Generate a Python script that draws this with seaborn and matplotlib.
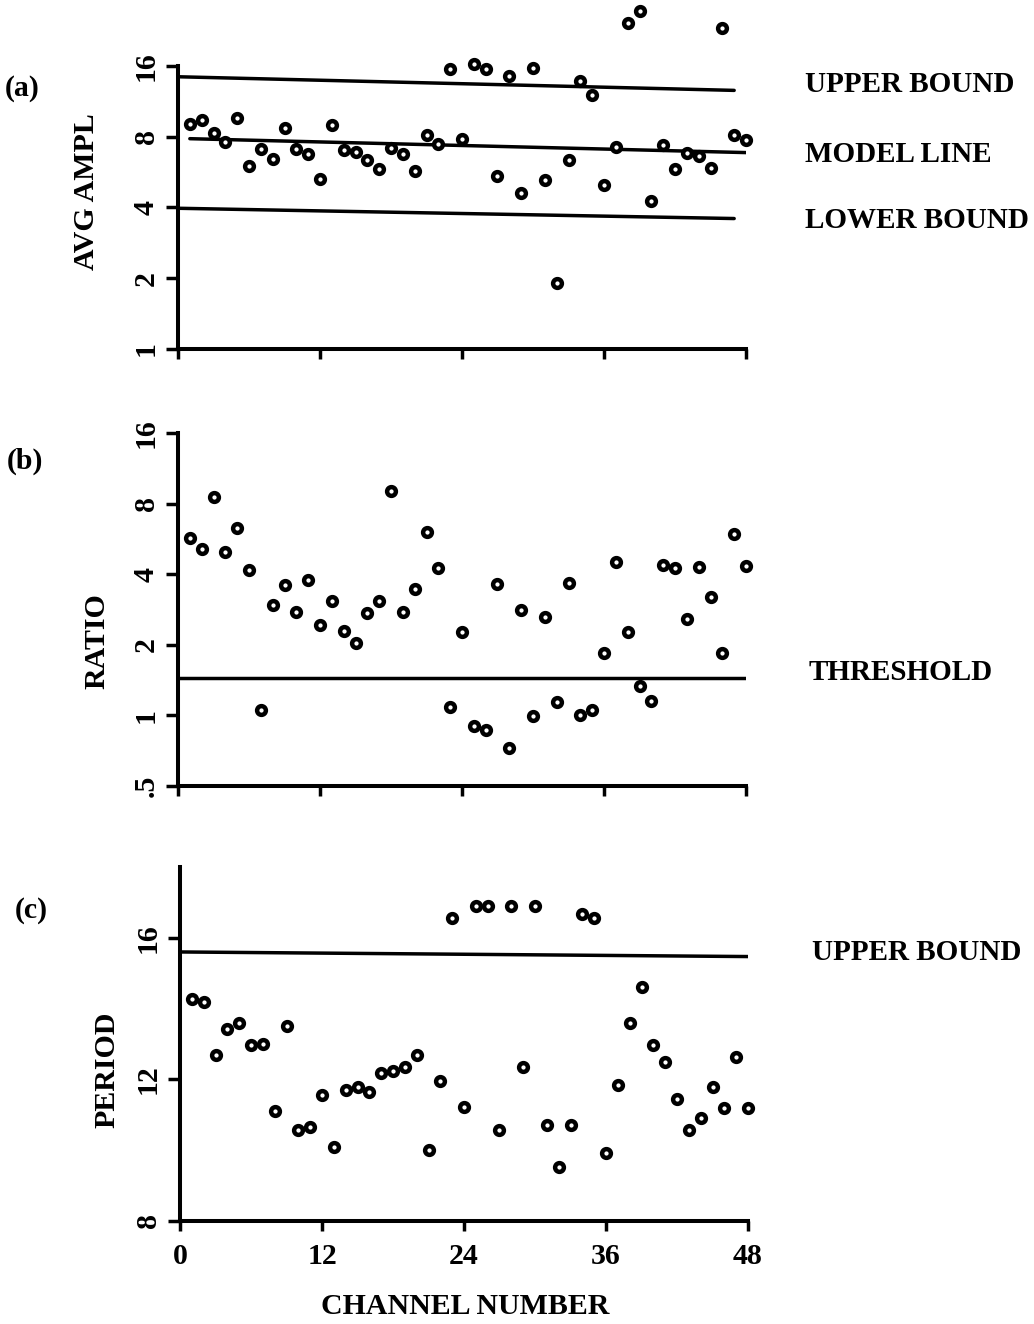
import matplotlib
matplotlib.use("Agg")
import matplotlib.pyplot as plt
from matplotlib.ticker import FixedLocator, NullLocator
import seaborn as sns

# channel numbers and per-channel values
channels = list(range(1, 49))
avg_ampl = [9.1, 9.4, 8.26, 7.63, 9.6, 6.0, 7.07, 6.46, 8.7, 7.07, 6.78, 5.27,
            9.0, 7.06, 6.92, 6.37, 5.85, 7.16, 6.73, 5.72, 8.12, 7.43, 15.5, 7.86,
            16.3, 15.5, 5.44, 14.5, 4.62, 15.7, 5.25, 1.91, 6.37, 13.8, 12.05, 4.97,
            7.26, 24.4, 27.3, 4.26, 7.40, 5.85, 6.85, 6.62, 5.89, 23.2, 8.17, 7.75]
ratio = [5.68, 5.12, 8.56, 4.99, 6.28, 4.16, 1.05, 2.95, 3.61, 2.77, 3.77, 2.42,
         3.07, 2.28, 2.04, 2.73, 3.07, 9.07, 2.77, 3.47, 6.03, 4.27, 1.09, 2.26,
         0.898, 0.863, 3.62, 0.728, 2.81, 0.99, 2.62, 1.14, 3.68, 1.0, 1.05, 1.84,
         4.5, 2.26, 1.33, 1.15, 4.37, 4.27, 2.57, 4.29, 3.2, 1.85, 5.93, 4.35]
period = [14.27, 14.2, 12.7, 13.41, 13.6, 12.98, 13.0, 11.1, 13.5, 10.58, 10.65, 11.57,
          10.08, 11.71, 11.78, 11.65, 12.19, 12.23, 12.35, 12.68, 10.0, 11.95, 16.57, 11.21,
          16.89, 16.89, 10.56, 16.89, 12.35, 16.89, 10.72, 9.53, 10.72, 16.67, 16.57, 9.93,
          11.85, 13.6, 14.6, 12.96, 12.5, 11.46, 10.56, 10.91, 11.79, 11.18, 12.64, 11.18]

# reference lines (end points)
upper_a_x, upper_a_y = [0, 47], [14.4, 12.6]
model_a_x, model_a_y = [1, 48], [7.85, 6.85]
lower_a_x, lower_a_y = [0, 47], [3.97, 3.59]
thresh_x, thresh_y = [0, 48], [1.45, 1.45]
upper_c_x, upper_c_y = [0, 48], [15.6, 15.47]

x_ticks = [0, 12, 24, 36, 48]
a_ticks, a_labels = [1, 2, 4, 8, 16], ["1", "2", "4", "8", "16"]
b_ticks, b_labels = [0.5, 1, 2, 4, 8, 16], [".5", "1", "2", "4", "8", "16"]
c_ticks, c_labels = [8, 12, 16], ["8", "12", "16"]

sns.set_style("ticks")
plt.rcParams["font.family"] = ["Liberation Serif", "DejaVu Serif"]
plt.rcParams["font.weight"] = "bold"
for key in ("text.color", "axes.labelcolor", "xtick.color", "ytick.color", "axes.edgecolor"):
    plt.rcParams[key] = "black"
FS = 21.5
LW = 2.5

W, H = 1034, 1324
fig = plt.figure(figsize=(W / 100, H / 100), dpi=100)


def px_axes(left, right, top, bottom):
    return fig.add_axes([left / W, 1 - bottom / H, (right - left) / W, (bottom - top) / H])


def fx(x):
    return x / W


def fy(y):
    return 1 - y / H


def style(ax, yticks, ylabels, xlabels):
    ax.set_xlim(0, 48)
    ax.xaxis.set_major_locator(FixedLocator(x_ticks))
    ax.yaxis.set_major_locator(FixedLocator(yticks))
    ax.yaxis.set_minor_locator(NullLocator())
    ax.xaxis.set_minor_locator(NullLocator())
    ax.set_yticks(yticks)
    ax.set_yticklabels(ylabels, rotation=90, va="center", fontsize=FS)
    if xlabels:
        ax.set_xticklabels([str(t) for t in x_ticks], fontsize=FS)
    else:
        ax.set_xticklabels([])
    ax.tick_params(axis="y", direction="out", length=9, width=LW, pad=4)
    ax.tick_params(axis="x", direction="out", length=7, width=LW, pad=9)
    sns.despine(ax=ax)
    for s in ("left", "bottom"):
        ax.spines[s].set_linewidth(LW + 0.4)
        ax.spines[s].set_color("black")
    ax.set_xlabel("")
    ax.set_ylabel("")


def points(ax, y):
    sns.scatterplot(x=channels, y=y, ax=ax, marker="o", s=40, facecolor="white",
                    edgecolor="black", linewidth=3.2, clip_on=False, zorder=5, legend=False)


def line(ax, xs, ys):
    sns.lineplot(x=xs, y=ys, ax=ax, color="black", linewidth=LW, estimator=None, legend=False)


# (a) average amplitude
ax_a = px_axes(178, 746, 66, 349)
ax_a.set_yscale("log", base=2)
line(ax_a, upper_a_x, upper_a_y)
line(ax_a, model_a_x, model_a_y)
line(ax_a, lower_a_x, lower_a_y)
points(ax_a, avg_ampl)
ax_a.set_ylim(1, 16)
style(ax_a, a_ticks, a_labels, False)

# (b) ratio
ax_b = px_axes(178, 746, 433, 786)
ax_b.set_yscale("log", base=2)
line(ax_b, thresh_x, thresh_y)
points(ax_b, ratio)
ax_b.set_ylim(0.5, 16)
style(ax_b, b_ticks, b_labels, False)

# (c) period
ax_c = px_axes(180, 748, 867, 1221)
line(ax_c, upper_c_x, upper_c_y)
points(ax_c, period)
ax_c.set_ylim(8, 18)
style(ax_c, c_ticks, c_labels, True)

# labels
fig.text(fx(86), fy(192), "AVG AMPL", rotation=90, ha="center", va="center", fontsize=FS)
fig.text(fx(97), fy(641), "RATIO", rotation=90, ha="center", va="center", fontsize=FS)
fig.text(fx(107), fy(1070), "PERIOD", rotation=90, ha="center", va="center", fontsize=FS)
fig.text(fx(465), fy(1307), "CHANNEL NUMBER", ha="center", va="center", fontsize=FS)

fig.text(fx(22), fy(88), "(a)", ha="center", va="center", fontsize=FS)
fig.text(fx(25), fy(461), "(b)", ha="center", va="center", fontsize=FS)
fig.text(fx(31), fy(911), "(c)", ha="center", va="center", fontsize=FS)

RFS = 21
fig.text(fx(805), fy(84), "UPPER BOUND", ha="left", va="center", fontsize=RFS)
fig.text(fx(805), fy(154), "MODEL LINE", ha="left", va="center", fontsize=RFS)
fig.text(fx(805), fy(221), "LOWER BOUND", ha="left", va="center", fontsize=RFS)
fig.text(fx(809), fy(673), "THRESHOLD", ha="left", va="center", fontsize=RFS)
fig.text(fx(812), fy(952), "UPPER BOUND", ha="left", va="center", fontsize=RFS)

fig.savefig("out.png", dpi=100)
